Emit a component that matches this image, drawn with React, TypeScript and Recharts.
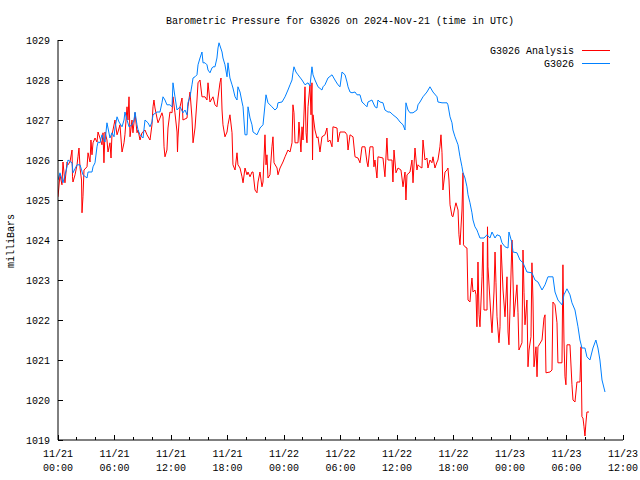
import { CartesianGrid, Customized, Line, LineChart, XAxis, YAxis } from 'recharts';

// hours since 11/21 00:00 UTC, pressure in mb
const ANALYSIS: [number, number][] = [
  [0.0, 1025.08], [0.21, 1025.63], [0.42, 1025.38], [0.53, 1025.95], [0.74, 1025.43], [0.96, 1025.95],
  [1.06, 1025.88], [1.27, 1025.95], [1.49, 1026.25], [1.54, 1025.58], [1.59, 1025.45], [1.81, 1025.63],
  [2.02, 1025.88], [2.12, 1026.08], [2.23, 1026.3], [2.34, 1025.8], [2.5, 1025.5], [2.55, 1024.68],
  [2.65, 1025.08], [2.76, 1025.75], [3.08, 1025.83], [3.19, 1026.18], [3.4, 1025.95], [3.5, 1026.5],
  [3.61, 1026.13], [3.72, 1026.43], [3.93, 1026.55], [4.14, 1026.45], [4.25, 1026.7], [4.46, 1026.55],
  [4.67, 1026.38], [4.78, 1026.68], [4.88, 1025.93], [4.99, 1026.7], [5.2, 1026.5], [5.31, 1026.2],
  [5.52, 1026.43], [5.63, 1026.05], [5.73, 1026.63], [5.84, 1026.75], [6.05, 1027.0], [6.27, 1026.63],
  [6.37, 1026.7], [6.58, 1026.88], [6.8, 1026.2], [7.01, 1026.43], [7.11, 1026.63], [7.33, 1027.33],
  [7.43, 1027.0], [7.54, 1027.58], [7.65, 1026.58], [7.86, 1027.0], [7.96, 1026.68], [8.18, 1027.18],
  [8.39, 1026.68], [8.5, 1026.75], [8.71, 1026.5], [8.92, 1026.68], [9.24, 1026.75], [9.45, 1026.63],
  [9.77, 1026.5], [9.98, 1026.88], [10.09, 1027.33], [10.19, 1027.5], [10.3, 1027.3], [10.51, 1027.05],
  [10.62, 1026.93], [10.83, 1027.05], [11.04, 1027.18], [11.15, 1027.08], [11.26, 1026.33], [11.36, 1026.08],
  [11.57, 1026.25], [11.68, 1026.8], [11.89, 1027.2], [12.11, 1027.18], [12.21, 1027.58], [12.42, 1027.18],
  [12.64, 1026.7], [12.69, 1026.2], [12.74, 1026.55], [12.96, 1027.33], [13.17, 1027.55], [13.27, 1027.0],
  [13.7, 1027.05], [13.8, 1027.33], [14.02, 1027.7], [14.23, 1027.05], [14.34, 1026.43], [14.55, 1026.8],
  [14.76, 1027.5], [14.87, 1027.93], [15.08, 1028.0], [15.29, 1027.58], [15.61, 1027.58], [15.82, 1027.5],
  [15.93, 1027.93], [16.14, 1027.45], [16.46, 1027.58], [16.67, 1027.38], [16.88, 1027.33], [16.99, 1027.55],
  [17.2, 1027.93], [17.31, 1028.05], [17.42, 1027.25], [17.52, 1026.88], [17.73, 1026.58], [17.95, 1026.7],
  [18.05, 1026.88], [18.26, 1027.13], [18.48, 1026.68], [18.58, 1025.88], [18.8, 1025.75], [19.01, 1026.18],
  [19.11, 1025.88], [19.33, 1025.8], [19.54, 1025.58], [19.65, 1025.43], [19.86, 1025.8], [20.07, 1025.63],
  [20.18, 1025.7], [20.39, 1025.58], [20.6, 1025.7], [20.71, 1025.7], [20.92, 1025.25], [21.13, 1025.18],
  [21.24, 1025.45], [21.45, 1025.7], [21.66, 1025.33], [21.77, 1025.45], [21.98, 1026.63], [22.09, 1025.88],
  [22.19, 1026.13], [22.3, 1025.55], [22.51, 1025.63], [22.72, 1026.33], [22.83, 1026.58], [22.94, 1025.93],
  [23.26, 1025.8], [23.36, 1025.63], [23.58, 1025.8], [23.89, 1025.95], [24.11, 1026.08], [24.42, 1026.25],
  [24.64, 1026.2], [24.85, 1026.43], [24.95, 1027.38], [25.06, 1027.18], [25.17, 1026.43], [25.49, 1026.43],
  [25.59, 1026.95], [25.8, 1026.2], [25.91, 1026.83], [26.02, 1026.5], [26.23, 1027.83], [26.34, 1026.68],
  [26.44, 1026.43], [26.55, 1027.33], [26.76, 1027.88], [26.87, 1027.13], [26.97, 1027.93], [27.03, 1026.0],
  [27.08, 1027.13], [27.29, 1026.75], [27.5, 1026.55], [27.61, 1026.58], [27.82, 1026.2], [28.03, 1026.58],
  [28.35, 1026.63], [28.56, 1026.8], [28.67, 1026.45], [28.88, 1026.5], [29.1, 1026.33], [29.2, 1026.83],
  [29.63, 1026.8], [29.73, 1026.45], [29.95, 1026.7], [30.48, 1026.7], [30.69, 1026.63], [30.8, 1026.25],
  [31.01, 1026.63], [31.33, 1026.58], [31.54, 1026.08], [31.86, 1026.05], [32.07, 1025.93], [32.28, 1026.33],
  [32.6, 1026.33], [32.81, 1025.95], [32.92, 1025.83], [33.13, 1026.33], [33.45, 1026.33], [33.55, 1025.83],
  [33.66, 1026.0], [33.87, 1025.55], [33.98, 1026.08], [34.51, 1026.05], [34.72, 1025.58], [34.93, 1026.55],
  [35.04, 1026.0], [35.47, 1026.0], [35.57, 1025.45], [35.68, 1026.25], [35.89, 1025.68], [36.11, 1025.8],
  [36.42, 1025.75], [36.53, 1025.55], [36.64, 1025.33], [36.85, 1025.7], [36.95, 1025.0], [37.06, 1025.63],
  [37.38, 1025.7], [37.59, 1026.0], [37.7, 1025.43], [37.91, 1026.3], [38.12, 1025.75], [38.23, 1025.88],
  [38.44, 1025.83], [38.65, 1025.8], [38.76, 1026.5], [38.97, 1026.0], [39.18, 1026.05], [39.29, 1025.8],
  [39.5, 1026.0], [39.71, 1025.93], [39.82, 1026.08], [40.03, 1025.8], [40.25, 1025.95], [40.35, 1026.0],
  [40.56, 1026.33], [40.67, 1026.63], [40.78, 1026.18], [40.88, 1025.25], [41.1, 1025.7], [41.31, 1025.75],
  [41.41, 1025.8], [41.52, 1025.5], [41.63, 1024.88], [41.84, 1024.6], [41.94, 1024.58], [42.16, 1024.83],
  [42.26, 1024.93], [42.48, 1024.75], [42.58, 1024.13], [42.69, 1023.88], [42.9, 1024.75], [43.01, 1025.68],
  [43.06, 1023.88], [43.22, 1023.83], [43.43, 1023.8], [43.54, 1022.5], [43.75, 1022.45], [43.86, 1022.8],
  [43.96, 1023.05], [44.07, 1022.7], [44.28, 1022.75], [44.39, 1022.63], [44.49, 1021.83], [44.6, 1023.45],
  [44.71, 1022.13], [44.81, 1021.83], [45.03, 1023.08], [45.13, 1023.95], [45.24, 1022.25], [45.56, 1022.25],
  [45.61, 1024.33], [45.66, 1023.33], [45.87, 1022.5], [45.98, 1022.05], [46.09, 1021.68], [46.3, 1022.7],
  [46.41, 1023.7], [46.51, 1022.93], [46.62, 1022.08], [46.83, 1021.43], [46.94, 1021.83], [47.04, 1023.88],
  [47.26, 1022.75], [47.47, 1022.08], [47.68, 1023.08], [47.79, 1021.7], [47.89, 1021.38], [48.21, 1024.0],
  [48.32, 1023.0], [48.42, 1022.08], [48.74, 1022.88], [48.85, 1022.18], [48.95, 1021.25], [49.27, 1021.43],
  [49.38, 1023.75], [49.49, 1022.68], [49.59, 1021.88], [49.8, 1022.5], [49.91, 1020.83], [50.02, 1021.25],
  [50.23, 1021.58], [50.33, 1023.43], [50.44, 1022.5], [50.55, 1020.83], [50.76, 1021.33], [50.87, 1020.58],
  [50.97, 1021.33], [51.4, 1021.5], [51.61, 1022.05], [51.72, 1022.13], [51.82, 1020.68], [52.25, 1020.7],
  [52.46, 1020.75], [52.56, 1022.45], [52.78, 1022.38], [52.99, 1021.93], [53.09, 1020.93], [53.52, 1020.93],
  [53.62, 1023.38], [53.73, 1021.5], [53.84, 1020.58], [53.94, 1020.38], [54.05, 1021.38], [54.37, 1021.38],
  [54.58, 1020.38], [54.69, 1020.0], [54.9, 1019.95], [55.11, 1020.45], [55.43, 1020.45], [55.54, 1021.33],
  [55.64, 1019.58], [55.75, 1019.55], [55.86, 1019.33], [55.96, 1019.1], [56.07, 1019.45], [56.17, 1019.7],
  [56.39, 1019.7],
];

const STATION: [number, number][] = [
  [0.0, 1025.5], [0.21, 1025.68], [0.53, 1025.43], [0.96, 1025.83], [1.06, 1026.0], [1.49, 1025.93],
  [1.59, 1025.68], [2.02, 1025.88], [2.34, 1025.88], [2.65, 1025.63], [3.08, 1025.55], [3.19, 1025.7],
  [3.61, 1025.7], [3.72, 1025.83], [3.93, 1025.93], [4.14, 1026.33], [4.25, 1026.45], [4.46, 1026.43],
  [4.67, 1026.63], [4.88, 1026.5], [4.99, 1026.45], [5.2, 1026.93], [5.31, 1026.8], [5.52, 1026.55],
  [5.73, 1026.68], [5.95, 1026.58], [6.05, 1026.8], [6.27, 1027.08], [6.48, 1026.95], [6.8, 1026.83],
  [7.01, 1027.0], [7.11, 1027.2], [7.33, 1027.0], [7.54, 1026.83], [7.86, 1026.88], [8.07, 1027.0],
  [8.18, 1027.2], [8.39, 1026.88], [8.5, 1026.75], [8.71, 1026.63], [9.03, 1026.55], [9.24, 1027.0],
  [9.56, 1026.93], [9.77, 1026.83], [9.98, 1026.95], [10.09, 1027.13], [10.51, 1027.2], [10.83, 1027.2],
  [11.04, 1027.43], [11.15, 1027.58], [11.36, 1027.5], [11.57, 1027.38], [11.89, 1027.38], [12.11, 1027.33],
  [12.21, 1027.93], [12.42, 1027.58], [12.64, 1027.25], [12.96, 1027.33], [13.27, 1027.18], [13.49, 1027.25],
  [13.7, 1027.13], [13.8, 1027.43], [14.02, 1027.58], [14.23, 1027.88], [14.34, 1028.05], [14.55, 1028.08],
  [14.76, 1028.13], [14.87, 1028.38], [15.08, 1028.55], [15.29, 1028.7], [15.4, 1028.43], [15.61, 1028.43],
  [15.82, 1028.38], [15.93, 1028.25], [16.14, 1028.18], [16.35, 1028.3], [16.46, 1028.33], [16.67, 1028.33],
  [16.88, 1028.55], [16.99, 1028.8], [17.1, 1028.93], [17.42, 1028.7], [17.52, 1028.55], [17.73, 1028.38],
  [17.95, 1028.08], [18.05, 1028.43], [18.26, 1028.05], [18.48, 1027.88], [18.58, 1027.8], [18.8, 1027.58],
  [19.01, 1027.5], [19.11, 1027.83], [19.33, 1027.7], [19.54, 1027.45], [19.65, 1027.33], [19.86, 1026.63],
  [20.07, 1026.63], [20.18, 1027.33], [20.39, 1027.05], [20.6, 1026.88], [20.71, 1026.7], [21.13, 1026.63],
  [21.45, 1026.8], [21.77, 1026.88], [22.09, 1027.63], [22.3, 1027.43], [22.72, 1027.33], [23.04, 1027.25],
  [23.26, 1027.3], [23.36, 1027.43], [23.79, 1027.45], [24.11, 1027.58], [24.42, 1027.75], [24.64, 1027.88],
  [24.85, 1028.0], [24.95, 1028.18], [25.06, 1028.33], [25.27, 1028.2], [25.49, 1028.13], [25.91, 1028.0],
  [26.23, 1027.88], [26.55, 1027.93], [26.76, 1027.85], [26.97, 1028.33], [27.08, 1028.13], [27.29, 1028.0],
  [27.61, 1027.83], [28.03, 1027.75], [28.14, 1027.83], [28.35, 1027.88], [28.67, 1028.05], [29.1, 1028.13],
  [29.41, 1028.0], [29.73, 1027.88], [29.95, 1027.83], [30.16, 1028.2], [30.48, 1028.13], [30.69, 1027.95],
  [30.8, 1027.83], [31.01, 1027.7], [31.22, 1027.68], [31.54, 1027.7], [31.75, 1027.63], [32.07, 1027.63],
  [32.28, 1027.45], [32.6, 1027.38], [32.81, 1027.33], [32.92, 1027.45], [33.34, 1027.5], [33.66, 1027.33],
  [33.87, 1027.3], [33.98, 1027.5], [34.19, 1027.45], [34.51, 1027.43], [34.72, 1027.25], [35.04, 1027.2],
  [35.25, 1027.2], [35.57, 1027.13], [36.0, 1027.05], [36.32, 1026.95], [36.64, 1026.88], [36.85, 1026.75],
  [36.95, 1027.43], [37.17, 1027.25], [37.38, 1027.18], [37.7, 1027.18], [38.12, 1027.25], [38.23, 1027.38],
  [38.44, 1027.45], [38.76, 1027.58], [39.18, 1027.7], [39.5, 1027.83], [39.82, 1027.7], [40.25, 1027.58],
  [40.35, 1027.45], [40.78, 1027.43], [41.31, 1027.43], [41.41, 1027.38], [41.63, 1027.08], [41.84, 1026.93],
  [41.94, 1026.75], [42.16, 1026.58], [42.37, 1026.45], [42.48, 1026.38], [42.69, 1026.08], [42.9, 1025.83],
  [43.01, 1025.68], [43.22, 1025.55], [43.43, 1025.33], [43.54, 1025.13], [43.75, 1024.93], [43.96, 1024.68],
  [44.07, 1024.5], [44.28, 1024.33], [44.49, 1024.25], [44.6, 1024.18], [44.81, 1024.05], [45.24, 1024.05],
  [45.56, 1024.13], [45.87, 1024.05], [46.09, 1024.2], [46.41, 1024.05], [46.62, 1024.13], [46.94, 1024.1],
  [47.15, 1023.93], [47.47, 1023.83], [47.79, 1023.8], [47.89, 1024.2], [48.21, 1023.93], [48.32, 1023.7],
  [48.74, 1023.68], [49.06, 1023.5], [49.38, 1023.43], [49.8, 1023.2], [50.33, 1023.18], [50.65, 1023.0],
  [50.97, 1022.95], [51.4, 1022.75], [51.72, 1022.88], [52.03, 1023.08], [52.56, 1023.08], [52.78, 1022.7],
  [53.09, 1022.5], [53.52, 1022.38], [53.73, 1022.63], [54.05, 1022.78], [54.37, 1022.63], [54.58, 1022.43],
  [54.9, 1022.25], [55.22, 1021.83], [55.43, 1021.5], [55.64, 1021.3], [55.96, 1021.3], [56.17, 1021.08],
  [56.49, 1021.0], [56.81, 1021.3], [57.12, 1021.5], [57.34, 1021.3], [57.55, 1021.0], [57.77, 1020.5],
  [58.09, 1020.2],
];

const SERIES_NAMES = ['G3026 Analysis', 'G3026'];
const SERIES_COLORS = ['#ff0000', '#0080ff'];

const X_TICKS = [0, 2, 4, 6, 8, 10, 12, 14, 16, 18, 20, 22, 24, 26, 28, 30, 32, 34, 36, 38, 40, 42, 44, 46, 48, 50, 52, 54, 56, 58, 60];
const DATE_LABELS = ['11/21', '11/21', '11/21', '11/21', '11/22', '11/22', '11/22', '11/22', '11/23', '11/23', '11/23'];
const TIME_LABELS = ['00:00', '06:00', '12:00', '18:00', '00:00', '06:00', '12:00', '18:00', '00:00', '06:00', '12:00'];
const Y_TICKS = [1019, 1020, 1021, 1022, 1023, 1024, 1025, 1026, 1027, 1028, 1029];

const TITLE = 'Barometric Pressure for G3026 on 2024-Nov-21 (time in UTC)';
const Y_LABEL = 'milliBars';

const FONT = '"Liberation Mono", "DejaVu Sans Mono", monospace';

const analysisData = ANALYSIS.map(([h, p]) => ({ h, p }));
const stationData = STATION.map(([h, p]) => ({ h, p }));

function BottomTick({ x, y, payload }: any) {
  const major = payload.value % 6 === 0;
  const i = payload.value / 6;
  return (
    <g>
      <line x1={x} y1={y} x2={x} y2={y - (major ? 5 : 3)} stroke="#000" shapeRendering="crispEdges" />
      {major && (
        <text x={x} y={y + 17} textAnchor="middle" fontFamily={FONT} fontSize={10} fill="#000">
          {DATE_LABELS[i]}
        </text>
      )}
      {major && (
        <text x={x} y={y + 31} textAnchor="middle" fontFamily={FONT} fontSize={10} fill="#000">
          {TIME_LABELS[i]}
        </text>
      )}
    </g>
  );
}

function TopTick({ x, y, payload }: any) {
  const major = payload.value % 6 === 0;
  return <line x1={x} y1={y} x2={x} y2={y + (major ? 5 : 3)} stroke="#000" shapeRendering="crispEdges" />;
}

function LeftTick({ x, y, payload }: any) {
  return (
    <g>
      <line x1={x} y1={y} x2={x + 5} y2={y} stroke="#000" shapeRendering="crispEdges" />
      <text x={x - 8} y={y + 4} textAnchor="end" fontFamily={FONT} fontSize={10} fill="#000">
        {payload.value}
      </text>
    </g>
  );
}

function RightTick({ x, y }: any) {
  return <line x1={x} y1={y} x2={x - 5} y2={y} stroke="#000" shapeRendering="crispEdges" />;
}

function Decorations() {
  return (
    <g fontFamily={FONT} fontSize={10} fill="#000">
      <text x={340} y={24} textAnchor="middle">{TITLE}</text>
      <text x={14} y={241} textAnchor="middle" transform="rotate(-90 14 241)">{Y_LABEL}</text>
      {SERIES_NAMES.map((name, i) => (
        <g key={name}>
          <text x={574} y={54 + i * 13} textAnchor="end">{name}</text>
          <line x1={582} x2={610} y1={50.5 + i * 13} y2={50.5 + i * 13} stroke={SERIES_COLORS[i]} />
        </g>
      ))}
    </g>
  );
}

export default function App() {
  return (
    <div style={{ position: 'absolute', left: 0, top: 0, width: 640, height: 480, background: '#fff' }}>
      <LineChart width={640} height={480} margin={{ top: 40, right: 17, bottom: 0, left: 8 }}>
        <XAxis
          dataKey="h"
          type="number"
          domain={[0, 60]}
          ticks={X_TICKS}
          interval={0}
          allowDataOverflow
          height={40}
          tickSize={0}
          tickMargin={0}
          tickLine={false}
          axisLine={{ stroke: '#000' }}
          tick={<BottomTick />}
        />
        <XAxis
          xAxisId="top"
          orientation="top"
          dataKey="h"
          type="number"
          domain={[0, 60]}
          ticks={X_TICKS}
          interval={0}
          allowDataOverflow
          height={0}
          tickSize={0}
          tickMargin={0}
          tickLine={false}
          axisLine={{ stroke: '#000' }}
          tick={<TopTick />}
        />
        <YAxis
          type="number"
          domain={[1019, 1029]}
          ticks={Y_TICKS}
          interval={0}
          allowDataOverflow
          width={50}
          tickSize={0}
          tickMargin={0}
          tickLine={false}
          axisLine={{ stroke: '#000' }}
          tick={<LeftTick />}
        />
        <YAxis
          yAxisId="right"
          orientation="right"
          type="number"
          domain={[1019, 1029]}
          ticks={Y_TICKS}
          interval={0}
          allowDataOverflow
          width={0}
          tickSize={0}
          tickMargin={0}
          tickLine={false}
          axisLine={{ stroke: '#000' }}
          tick={<RightTick />}
        />
        <Line
          data={analysisData}
          dataKey="p"
          name={SERIES_NAMES[0]}
          stroke={SERIES_COLORS[0]}
          strokeWidth={1}
          dot={false}
          type="linear"
          isAnimationActive={false}
        />
        <Line
          data={stationData}
          dataKey="p"
          name={SERIES_NAMES[1]}
          stroke={SERIES_COLORS[1]}
          strokeWidth={1}
          dot={false}
          type="linear"
          isAnimationActive={false}
        />
        <Customized component={Decorations} />
      </LineChart>
    </div>
  );
}
